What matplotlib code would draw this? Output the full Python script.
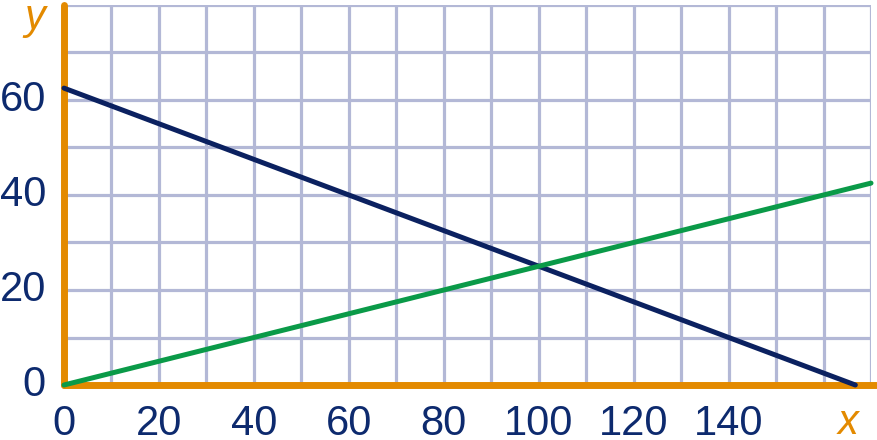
import matplotlib.pyplot as plt
import numpy as np

plt.rcParams['font.family'] = ['Liberation Sans', 'DejaVu Sans']

# line data (x, y pairs)
blue_x = [0, 166.7]
blue_y = [62.5, 0]
green_x = [0, 170]
green_y = [0, 42.5]

x_ticks = [0, 20, 40, 60, 80, 100, 120, 140]
y_ticks = [0, 20, 40, 60]

orange = '#E38A00'
navy = '#0B2160'
green = '#0A9A48'
gridc = '#B3B8D6'
labc = '#0D2A6E'

fig = plt.figure(figsize=(8.77, 4.40), dpi=100)
ax = fig.add_axes([64/877, 55/440, 807/877, 380/440])
ax.set_xlim(0, 170)
ax.set_ylim(0, 80)

# grid every 10 units
for gx in np.arange(10, 171, 10):
    ax.axvline(gx, color=gridc, lw=2.3, zorder=1)
for gy in np.arange(10, 81, 10):
    ax.axhline(gy, color=gridc, lw=2.3, zorder=1)

ax.plot(blue_x, blue_y, color=navy, lw=3.6, solid_capstyle='round', zorder=4, clip_on=False)
ax.plot(green_x, green_y, color=green, lw=3.6, solid_capstyle='round', zorder=4, clip_on=False)

# orange axes
ax.plot([0, 0], [0, 80], color=orange, lw=5, solid_capstyle='round', zorder=3, clip_on=False)
ax.plot([0, 171], [0, 0], color=orange, lw=5, solid_capstyle='round', zorder=3, clip_on=False)

for s in ax.spines.values():
    s.set_visible(False)

ax.set_xticks(x_ticks)
ax.set_xticklabels([str(v) for v in x_ticks])
ax.set_yticks(y_ticks)
ax.set_yticklabels([str(v) for v in y_ticks])
ax.tick_params(axis='both', length=0, labelsize=30, labelcolor=labc)
ax.tick_params(axis='x', pad=14)
ax.tick_params(axis='y', pad=13)
for lab in ax.get_yticklabels():
    lab.set_verticalalignment('center')

fig.text(35/877, 1 - 18/440, 'y', color=orange, fontsize=30, style='italic', ha='center', va='center')
fig.text(848/877, 1 - 423/440, 'x', color=orange, fontsize=30, style='italic', ha='center', va='center')

fig.savefig('out.png', dpi=100)
